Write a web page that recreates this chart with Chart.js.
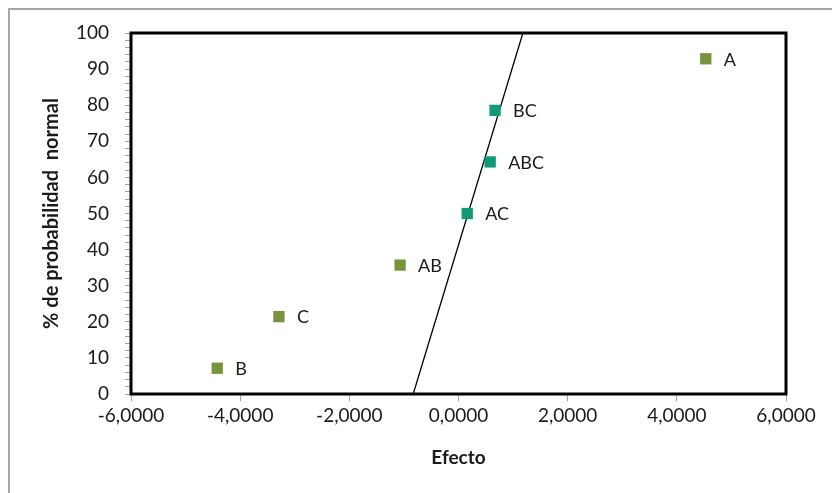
<!DOCTYPE html>
<html>
<head>
<meta charset="utf-8">
<title>Probabilidad normal de efectos</title>
<script src="https://cdn.jsdelivr.net/npm/chart.js@4.4.1/dist/chart.umd.min.js"></script>
<style>
  body { margin: 0; background: #fff; }
  #wrap { position: relative; width: 832px; height: 493px; overflow: hidden; }
  #frame { position: absolute; left: 8px; top: 8px; width: 900px; height: 600px; border: 2px solid #a6a6a6; box-sizing: border-box; }
  canvas { position: absolute; left: 0; top: 0; }
</style>
</head>
<body>
<div id="wrap">
  <div id="frame"></div>
  <canvas id="chart" width="832" height="493"></canvas>
</div>
<script>
// effect names, estimated effects and normal probability (%)
const effectNames = ["A", "BC", "ABC", "AC", "AB", "C", "B"];
const effectValues = [4.53, 0.67, 0.58, 0.16, -1.07, -3.29, -4.42];
const probValues = [92.86, 78.57, 64.29, 50.0, 35.71, 21.43, 7.14];
const pointColors = ["#77933C", "#0F9B76", "#0F9B76", "#0F9B76", "#77933C", "#77933C", "#77933C"];

// reference line ends (x at 0% and 100%)
const lineX = [-0.83, 1.18];
const lineY = [0, 100];

const xTicks = [-6, -4, -2, 0, 2, 4, 6];

const fontFam = "Lato, 'Open Sans', sans-serif";

// frame around plot area (thick black)
const framePlugin = {
  id: "frame",
  afterDatasetsDraw(chart) {
    const a = chart.chartArea;
    const ctx = chart.ctx;
    ctx.save();
    ctx.strokeStyle = "#000";
    ctx.lineWidth = 3;
    ctx.strokeRect(a.left, a.top, a.right - a.left, a.bottom - a.top);
    ctx.restore();
  }
};

// text labels next to each point
const pointLabels = {
  id: "pointLabels",
  afterDatasetsDraw(chart) {
    const meta = chart.getDatasetMeta(0);
    const ctx = chart.ctx;
    ctx.save();
    ctx.font = "18px " + fontFam;
    ctx.fillStyle = "#1a1a1a";
    ctx.textBaseline = "middle";
    ctx.textAlign = "left";
    meta.data.forEach((pt, i) => {
      ctx.fillText(effectNames[i], pt.x + 18, pt.y + 1);
    });
    ctx.restore();
  }
};

new Chart(document.getElementById("chart"), {
  type: "scatter",
  data: {
    datasets: [
      {
        data: effectValues.map((v, i) => ({ x: v, y: probValues[i] })),
        pointStyle: "rect",
        pointRadius: 8,
        pointHoverRadius: 8,
        backgroundColor: pointColors,
        borderColor: pointColors,
        borderWidth: 0,
        order: 1
      },
      {
        type: "line",
        data: lineX.map((v, i) => ({ x: v, y: lineY[i] })),
        borderColor: "#000",
        borderWidth: 1.3,
        pointRadius: 0,
        fill: false,
        order: 2
      }
    ]
  },
  options: {
    responsive: false,
    animation: false,
    layout: { padding: { left: 0, top: 33, right: 46, bottom: 0 } },
    plugins: { legend: { display: false }, tooltip: { enabled: false } },
    scales: {
      x: {
        type: "linear",
        min: -6,
        max: 6,
        afterBuildTicks(scale) { scale.ticks = xTicks.map(v => ({ value: v })); },
        afterFit(scale) { scale.height = 99; },
        grid: { drawOnChartArea: false, drawTicks: true, tickLength: 7, tickColor: "#a0a0a0", tickWidth: 1 },
        border: { display: false },
        ticks: {
          padding: 3,
          color: "#1a1a1a",
          font: { family: fontFam, size: 19 },
          callback: v => v.toFixed(4).replace(".", ",")
        },
        title: {
          display: true,
          text: "Efecto",
          color: "#1a1a1a",
          font: { family: fontFam, size: 19, weight: "bold" },
          padding: 24
        }
      },
      y: {
        min: 0,
        max: 100,
        afterFit(scale) { scale.width = 131; },
        grid: { drawOnChartArea: false, drawTicks: true, tickLength: 6, tickColor: "#a0a0a0", tickWidth: 1 },
        border: { display: false },
        ticks: {
          stepSize: 2,
          autoSkip: false,
          padding: 16,
          color: "#1a1a1a",
          font: { family: fontFam, size: 19 },
          callback: v => (v % 10 === 0 ? v : "")
        },
        title: {
          display: true,
          text: "% de probabilidad  normal",
          color: "#1a1a1a",
          font: { family: fontFam, size: 20, weight: "bold" },
          padding: 40
        }
      }
    }
  },
  plugins: [framePlugin, pointLabels]
});
</script>
</body>
</html>
